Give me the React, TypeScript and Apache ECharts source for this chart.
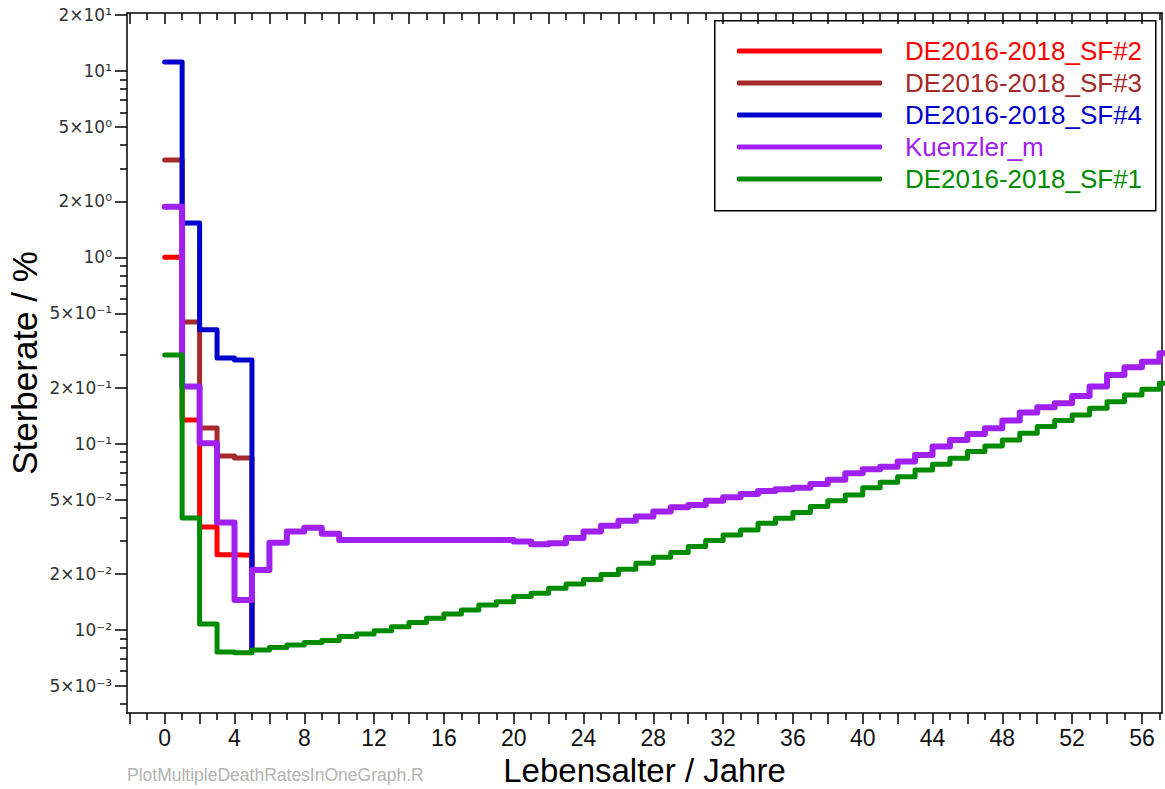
import React, { useEffect, useRef } from "react";
import * as echarts from "echarts";

// ---- data ----
const agesShort = [0, 1, 2, 3, 4, 5];
const agesLong = [
  0, 1, 2, 3, 4, 5, 6, 7, 8, 9, 10, 11, 12, 13, 14, 15, 16, 17, 18, 19, 20,
  21, 22, 23, 24, 25, 26, 27, 28, 29, 30, 31, 32, 33, 34, 35, 36, 37, 38, 39,
  40, 41, 42, 43, 44, 45, 46, 47, 48, 49, 50, 51, 52, 53, 54, 55, 56, 57, 58,
];

const sf2 = [1.0, 0.134, 0.0357, 0.0253, 0.0252, 0.0079];
const sf3 = [3.33, 0.45, 0.1214, 0.0859, 0.0838, 0.0079];
const sf4 = [11.2, 1.53, 0.408, 0.288, 0.281, 0.0079];
const kuenzler = [
  1.87, 0.2023, 0.1005, 0.0377, 0.01449, 0.021, 0.0294, 0.0337, 0.0354, 0.0328,
  0.0304, 0.0304, 0.0304, 0.0304, 0.0304, 0.0304, 0.0304, 0.0304, 0.0304, 0.0304,
  0.0298, 0.0288, 0.0292, 0.0311, 0.0337, 0.0362, 0.0386, 0.0406, 0.0432, 0.0456,
  0.0469, 0.0494, 0.0516, 0.0537, 0.0557, 0.0569, 0.058, 0.0608, 0.0639, 0.0694,
  0.0729, 0.0752, 0.0801, 0.087, 0.0964, 0.1047, 0.1128, 0.121, 0.1329, 0.1467,
  0.1568, 0.1648, 0.1803, 0.2023, 0.2338, 0.2571, 0.2755, 0.3056, 0.3056,
];
const sf1 = [
  0.299, 0.0399, 0.01077, 0.00762, 0.00753, 0.00781, 0.00804, 0.00831, 0.00857,
  0.00876, 0.00921, 0.00952, 0.00991, 0.01041, 0.01095, 0.01156, 0.01219, 0.0128,
  0.01362, 0.01418, 0.01509, 0.01574, 0.01674, 0.01765, 0.01866, 0.01986, 0.02117,
  0.0228, 0.02456, 0.026, 0.028, 0.03015, 0.03235, 0.03442, 0.03738, 0.03977,
  0.04262, 0.0459, 0.04941, 0.05304, 0.058, 0.062, 0.0665, 0.0722, 0.0775, 0.0835,
  0.0906, 0.0972, 0.1047, 0.1137, 0.1234, 0.1329, 0.1426, 0.1549, 0.168, 0.1825,
  0.1959, 0.211, 0.211,
];

const xLabelValues = [0, 4, 8, 12, 16, 20, 24, 28, 32, 36, 40, 44, 48, 52, 56];
const xMajorTicks = [
  -2, 0, 2, 4, 6, 8, 10, 12, 14, 16, 18, 20, 22, 24, 26, 28, 30, 32, 34, 36, 38,
  40, 42, 44, 46, 48, 50, 52, 54, 56,
];
const xMinorTicks = [
  -1, 1, 3, 5, 7, 9, 11, 13, 15, 17, 19, 21, 23, 25, 27, 29, 31, 33, 35, 37, 39,
  41, 43, 45, 47, 49, 51, 53, 55, 57,
];
const yLabelValues = [0.005, 0.01, 0.02, 0.05, 0.1, 0.2, 0.5, 1, 2, 5, 10, 20];
const yMinorTicks = [
  0.004, 0.006, 0.007, 0.008, 0.009, 0.03, 0.04, 0.06, 0.07, 0.08, 0.09, 0.3,
  0.4, 0.6, 0.7, 0.8, 0.9, 3, 4, 6, 7, 8, 9,
];

const seriesDefs = [
  { name: "DE2016-2018_SF#2", color: "#FF0000", ages: agesShort, values: sf2, width: 5 },
  { name: "DE2016-2018_SF#3", color: "#A52A2A", ages: agesShort, values: sf3, width: 5 },
  { name: "DE2016-2018_SF#4", color: "#0000CD", ages: agesShort, values: sf4, width: 5 },
  { name: "Kuenzler_m", color: "#A020F0", ages: agesLong, values: kuenzler, width: 6 },
  { name: "DE2016-2018_SF#1", color: "#008B00", ages: agesLong, values: sf1, width: 5 },
];

const X_MIN = -2.16;
const X_MAX = 57.15;
const Y_MIN = 0.00358;
const Y_MAX = 20.5;
const FONT = "Liberation Sans, Arial, Helvetica, sans-serif";
const WIDE_FONT = "DejaVu Sans, Verdana, sans-serif";

const SUP: Record<string, string> = {
  "0": "⁰", "1": "¹", "2": "²", "3": "³", "4": "⁴", "5": "⁵",
  "6": "⁶", "7": "⁷", "8": "⁸", "9": "⁹", "-": "⁻",
};

function yLabel(v: number): string {
  const e = Math.floor(Math.log10(v) + 1e-9);
  const m = Math.round(v / Math.pow(10, e));
  const exp = String(e).split("").map((c) => SUP[c] || c).join("");
  return m === 1 ? `10${exp}` : `${m}×10${exp}`;
}

export default function App() {
  const ref = useRef<HTMLDivElement>(null);
  useEffect(() => {
    if (!ref.current) return;
    const chart = echarts.init(ref.current, null, { renderer: "svg" });
    const axisLineStyle = { color: "#000", width: 1.5 };
    const commonX = { type: "value", min: X_MIN, max: X_MAX, splitLine: { show: false } };
    const commonY = { type: "log", logBase: 10, min: Y_MIN, max: Y_MAX, splitLine: { show: false } };
    chart.setOption({
      animation: false,
      textStyle: { fontFamily: FONT },
      grid: { left: 127, right: 3, top: 13, bottom: 76, containLabel: false, outerBoundsMode: "none" },
      legend: {
        orient: "vertical",
        left: 737,
        top: 38,
        padding: 0,
        icon: "roundRect",
        itemWidth: 145,
        itemHeight: 5,
        itemGap: 6,
        selectedMode: false,
        textStyle: { fontSize: 26, fontFamily: FONT, padding: [0, 0, 0, 18] },
        data: seriesDefs.map((s) => ({ name: s.name, textStyle: { color: s.color } })),
      },
      xAxis: [
        {
          ...commonX,
          position: "bottom",
          name: "Lebensalter / Jahre",
          nameLocation: "middle",
          nameGap: 42,
          nameMoveOverlap: false,
          nameTextStyle: { fontSize: 33, lineHeight: 30, color: "#000", fontFamily: FONT },
          axisLine: { show: true, onZero: false, lineStyle: axisLineStyle },
          axisTick: { show: true, length: 11, customValues: xMajorTicks, lineStyle: axisLineStyle },
          axisLabel: { show: true, customValues: xLabelValues, fontSize: 23, lineHeight: 23, color: "#111", margin: 13, fontFamily: FONT },
        },
        {
          ...commonX,
          position: "bottom",
          axisLine: { show: false, onZero: false },
          axisTick: { show: true, length: 7, customValues: xMinorTicks, lineStyle: axisLineStyle },
          axisLabel: { show: false },
        },
        {
          ...commonX,
          position: "top",
          axisLine: { show: true, onZero: false, lineStyle: axisLineStyle },
          axisTick: { show: true, inside: true, length: 11, customValues: xMajorTicks, lineStyle: axisLineStyle },
          axisLabel: { show: false },
        },
        {
          ...commonX,
          position: "top",
          axisLine: { show: false, onZero: false },
          axisTick: { show: true, inside: true, length: 7, customValues: xMinorTicks, lineStyle: axisLineStyle },
          axisLabel: { show: false },
        },
      ],
      yAxis: [
        {
          ...commonY,
          position: "left",
          name: "Sterberate / %",
          nameLocation: "middle",
          nameGap: 85,
          nameRotate: 90,
          nameMoveOverlap: false,
          nameTextStyle: { fontSize: 35, color: "#000", fontFamily: FONT },
          axisLine: { show: true, onZero: false, lineStyle: axisLineStyle },
          axisTick: { show: true, length: 12, customValues: yLabelValues, lineStyle: axisLineStyle },
          axisLabel: {
            show: true,
            customValues: yLabelValues,
            margin: 15,
            fontSize: 17,
            color: "#333",
            fontFamily: WIDE_FONT,
            formatter: (v: number) => yLabel(v),
          },
        },
        {
          ...commonY,
          position: "left",
          axisLine: { show: false, onZero: false },
          axisTick: { show: true, length: 7, customValues: yMinorTicks, lineStyle: axisLineStyle },
          axisLabel: { show: false },
        },
        {
          ...commonY,
          position: "right",
          axisLine: { show: true, onZero: false, lineStyle: axisLineStyle },
          axisTick: { show: false },
          axisLabel: { show: false },
        },
      ],
      graphic: [
        {
          type: "rect",
          left: 714,
          top: 20,
          shape: { x: 0, y: 0, width: 441, height: 190 },
          style: { fill: "transparent", stroke: "#000", lineWidth: 1.5 },
          z: 10,
        },
        {
          type: "text",
          left: 127,
          top: 766,
          style: { text: "PlotMultipleDeathRatesInOneGraph.R", fontSize: 17.5, fill: "#b3b3b3", fontFamily: FONT },
        },
      ],
      series: seriesDefs.map((s) => ({
        name: s.name,
        type: "line",
        step: "end",
        xAxisIndex: 0,
        yAxisIndex: 0,
        showSymbol: false,
        symbol: "none",
        clip: true,
        color: s.color,
        itemStyle: { color: s.color },
        lineStyle: { color: s.color, width: s.width, cap: "round", join: "round" },
        data: s.ages.map((a, i) => [a, s.values[i]]),
      })),
    });
    return () => chart.dispose();
  }, []);
  return (
    <div
      ref={ref}
      style={{ position: "fixed", left: 0, top: 0, width: 1165, height: 789, background: "#fff" }}
    />
  );
}
